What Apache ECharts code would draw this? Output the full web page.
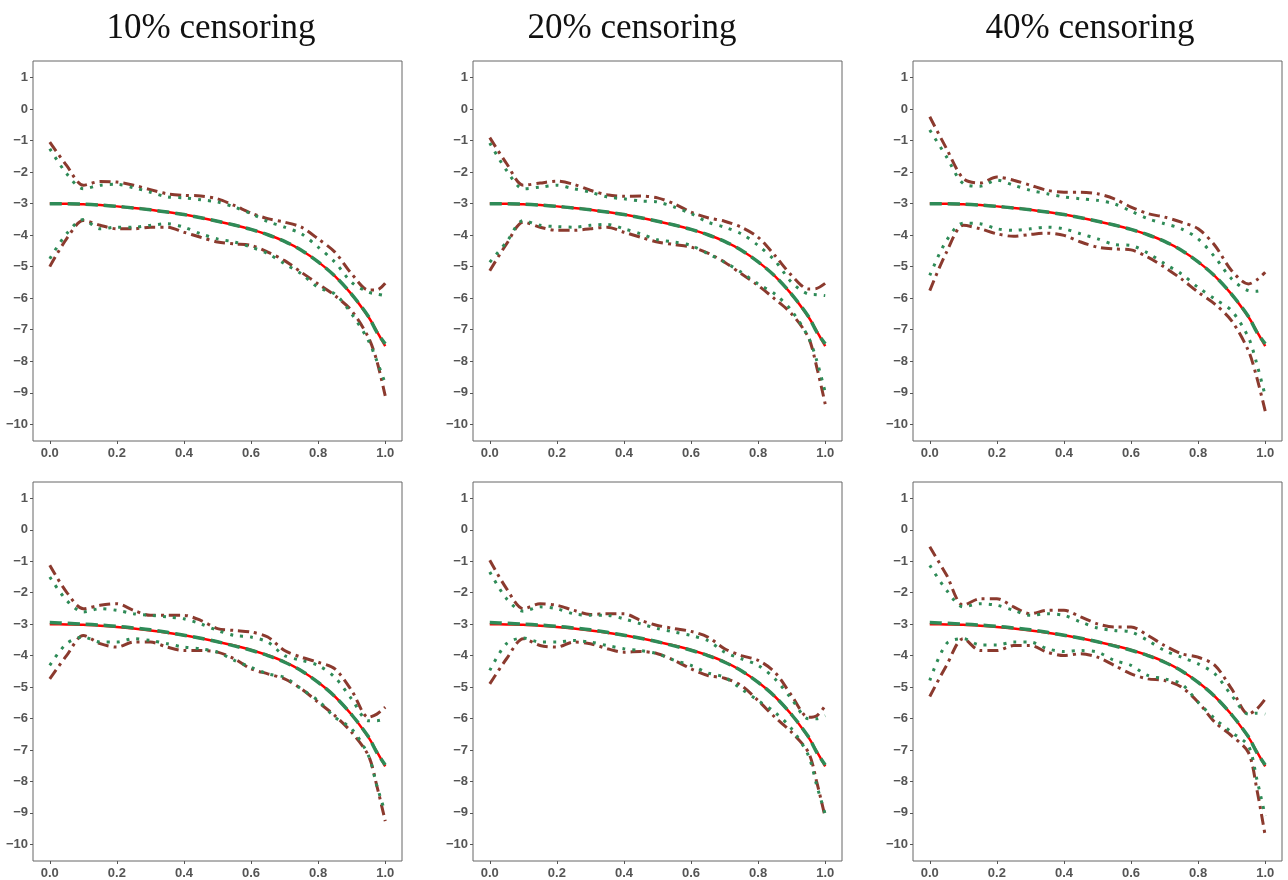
<!DOCTYPE html>
<html>
<head>
<meta charset="utf-8">
<script src="https://cdn.jsdelivr.net/npm/echarts@6/dist/echarts.min.js"></script>
<style>html,body{margin:0;padding:0;background:#fff}#c{width:1288px;height:880px}</style>
</head>
<body>
<div id="c"></div>
<script>
const titles = ['10% censoring', '20% censoring', '40% censoring'];
const xs = [0,0.05,0.1,0.15,0.2,0.25,0.3,0.35,0.4,0.45,0.5,0.55,0.6,0.65,0.7,0.75,0.8,0.85,0.9,0.95,0.975,1.0];
const xTicks = [0, 0.2, 0.4, 0.6, 0.8, 1.0];
const yTicks = [-10,-9,-8,-7,-6,-5,-4,-3,-2,-1,0,1];

const truth = [-3.0,-3.01,-3.02,-3.05,-3.09,-3.14,-3.2,-3.27,-3.35,-3.45,-3.56,-3.68,-3.82,-3.99,-4.2,-4.48,-4.85,-5.3,-5.88,-6.6,-7.05,-7.52];
const estTop = [-3.01,-3.01,-3.02,-3.05,-3.09,-3.14,-3.2,-3.27,-3.35,-3.45,-3.56,-3.68,-3.82,-3.99,-4.2,-4.48,-4.85,-5.3,-5.88,-6.58,-7.08,-7.45];
const estBottom = [-2.95,-2.97,-3.0,-3.03,-3.07,-3.12,-3.18,-3.26,-3.35,-3.45,-3.56,-3.69,-3.83,-4.0,-4.21,-4.48,-4.85,-5.3,-5.88,-6.58,-7.08,-7.48];

// panel 1: 10% censoring, top
const p1UpDD = [-1.05,-1.79,-2.42,-2.3,-2.32,-2.42,-2.56,-2.69,-2.74,-2.76,-2.85,-3.06,-3.3,-3.48,-3.59,-3.75,-4.12,-4.54,-5.23,-5.74,-5.74,-5.53];
const p1UpDot = [-1.26,-2.05,-2.53,-2.42,-2.39,-2.5,-2.64,-2.79,-2.82,-2.88,-2.95,-3.11,-3.32,-3.57,-3.75,-3.96,-4.38,-4.86,-5.5,-5.81,-5.87,-5.92];
const p1LoDD = [-5.0,-4.12,-3.54,-3.69,-3.8,-3.8,-3.75,-3.75,-3.91,-4.07,-4.22,-4.28,-4.33,-4.54,-4.81,-5.18,-5.55,-5.92,-6.4,-7.25,-7.99,-9.1];
const p1LoDot = [-4.75,-3.96,-3.51,-3.8,-3.75,-3.75,-3.69,-3.64,-3.75,-3.96,-4.12,-4.22,-4.38,-4.59,-4.91,-5.23,-5.66,-5.87,-6.5,-7.35,-7.99,-8.7];
// panel 2: 20% censoring, top
const p2UpDD = [-0.91,-1.73,-2.42,-2.35,-2.29,-2.39,-2.58,-2.72,-2.77,-2.76,-2.82,-3.01,-3.27,-3.45,-3.56,-3.75,-4.07,-4.65,-5.28,-5.71,-5.69,-5.53];
const p2UpDot = [-1.08,-1.95,-2.53,-2.48,-2.42,-2.53,-2.64,-2.79,-2.85,-2.92,-2.95,-3.11,-3.32,-3.59,-3.75,-3.96,-4.33,-4.81,-5.5,-5.87,-5.89,-5.92];
const p2LoDD = [-5.13,-4.28,-3.59,-3.75,-3.85,-3.85,-3.8,-3.75,-3.91,-4.07,-4.22,-4.3,-4.38,-4.57,-4.86,-5.23,-5.6,-6.03,-6.5,-7.25,-8.2,-9.36];
const p2LoDot = [-4.86,-4.22,-3.54,-3.69,-3.73,-3.75,-3.69,-3.66,-3.8,-3.96,-4.15,-4.22,-4.33,-4.59,-4.86,-5.18,-5.55,-5.87,-6.4,-7.25,-7.99,-8.99];
// panel 3: 40% censoring, top
const p3UpDD = [-0.25,-1.26,-2.21,-2.35,-2.16,-2.26,-2.42,-2.58,-2.64,-2.64,-2.69,-2.85,-3.11,-3.32,-3.43,-3.59,-3.8,-4.33,-5.13,-5.55,-5.42,-5.18];
const p3UpDot = [-0.67,-1.52,-2.37,-2.45,-2.26,-2.42,-2.58,-2.69,-2.79,-2.85,-2.9,-3.01,-3.24,-3.48,-3.64,-3.8,-4.12,-4.7,-5.39,-5.76,-5.78,-5.71];
const p3LoDD = [-5.76,-4.54,-3.69,-3.8,-3.96,-4.04,-3.98,-3.94,-4.01,-4.22,-4.38,-4.44,-4.47,-4.7,-5.02,-5.39,-5.81,-6.19,-6.72,-7.67,-8.52,-9.58];
const p3LoDot = [-5.28,-4.17,-3.62,-3.64,-3.8,-3.85,-3.8,-3.75,-3.8,-3.96,-4.12,-4.3,-4.33,-4.57,-4.91,-5.23,-5.66,-6.03,-6.4,-7.25,-8.09,-9.1];
// panel 4: 10% censoring, bottom
const p4UpDD = [-1.13,-1.98,-2.51,-2.4,-2.35,-2.56,-2.72,-2.72,-2.72,-2.88,-3.14,-3.2,-3.25,-3.41,-3.84,-4.05,-4.21,-4.42,-5.11,-5.96,-5.86,-5.64];
const p4UpDot = [-1.5,-2.24,-2.61,-2.51,-2.56,-2.67,-2.72,-2.77,-2.83,-2.99,-3.2,-3.36,-3.41,-3.57,-4.0,-4.15,-4.31,-4.69,-5.38,-6.07,-6.07,-6.01];
const p4LoDD = [-4.74,-4.0,-3.36,-3.62,-3.73,-3.57,-3.57,-3.73,-3.84,-3.84,-3.89,-4.1,-4.42,-4.58,-4.74,-5.06,-5.48,-5.91,-6.44,-7.18,-8.14,-9.26];
const p4LoDot = [-4.31,-3.62,-3.41,-3.57,-3.57,-3.46,-3.52,-3.62,-3.73,-3.78,-3.89,-4.15,-4.37,-4.58,-4.69,-5.06,-5.43,-5.96,-6.33,-7.18,-8.14,-8.99];
// panel 5: 20% censoring, bottom
const p5UpDD = [-0.97,-1.87,-2.51,-2.35,-2.4,-2.56,-2.69,-2.67,-2.67,-2.88,-3.04,-3.14,-3.23,-3.41,-3.78,-4.0,-4.15,-4.53,-5.27,-5.96,-5.91,-5.59];
const p5UpDot = [-1.34,-2.19,-2.59,-2.45,-2.51,-2.67,-2.72,-2.72,-2.83,-2.99,-3.14,-3.25,-3.36,-3.52,-3.89,-4.1,-4.31,-4.74,-5.38,-6.01,-6.01,-5.91];
const p5LoDD = [-4.9,-4.1,-3.46,-3.68,-3.73,-3.57,-3.62,-3.78,-3.89,-3.87,-3.94,-4.15,-4.42,-4.63,-4.72,-4.95,-5.43,-5.96,-6.44,-7.08,-8.03,-9.15];
const p5LoDot = [-4.47,-3.62,-3.44,-3.57,-3.57,-3.52,-3.57,-3.68,-3.78,-3.84,-3.94,-4.15,-4.31,-4.55,-4.69,-5.06,-5.43,-5.8,-6.33,-7.18,-8.14,-9.04];
// panel 6: 40% censoring, bottom
const p6UpDD = [-0.54,-1.44,-2.4,-2.19,-2.19,-2.45,-2.67,-2.56,-2.56,-2.77,-2.99,-3.09,-3.09,-3.36,-3.68,-3.94,-4.05,-4.31,-5.06,-5.86,-5.7,-5.38];
const p6UpDot = [-1.13,-1.92,-2.45,-2.35,-2.4,-2.56,-2.72,-2.67,-2.72,-2.93,-3.12,-3.2,-3.25,-3.52,-3.84,-4.05,-4.26,-4.58,-5.27,-5.86,-5.83,-5.86];
const p6LoDD = [-5.3,-4.31,-3.46,-3.84,-3.84,-3.68,-3.68,-3.89,-4.0,-3.94,-4.05,-4.31,-4.58,-4.74,-4.79,-5.0,-5.48,-6.12,-6.55,-7.08,-8.25,-9.73];
const p6LoDot = [-4.79,-3.62,-3.46,-3.66,-3.66,-3.57,-3.57,-3.78,-3.87,-3.84,-3.89,-4.15,-4.31,-4.63,-4.74,-4.9,-5.48,-6.01,-6.44,-6.87,-7.93,-9.1];

const panels = [
  {est: estTop, up: p1UpDD, upDot: p1UpDot, lo: p1LoDD, loDot: p1LoDot},
  {est: estTop, up: p2UpDD, upDot: p2UpDot, lo: p2LoDD, loDot: p2LoDot},
  {est: estTop, up: p3UpDD, upDot: p3UpDot, lo: p3LoDD, loDot: p3LoDot},
  {est: estBottom, up: p4UpDD, upDot: p4UpDot, lo: p4LoDD, loDot: p4LoDot},
  {est: estBottom, up: p5UpDD, upDot: p5UpDot, lo: p5LoDD, loDot: p5LoDot},
  {est: estBottom, up: p6UpDD, upDot: p6UpDot, lo: p6LoDD, loDot: p6LoDot}
];

const colLeft = [33, 473, 913];
const colWidth = 369;
const rowTop = [61, 482];
const rowHeight = 380;
const titleX = [206, 627, 1085];

const pair = arr => xs.map((x, i) => [x, arr[i]]);
const fmtY = v => v < 0 ? '\u2212' + Math.abs(v) : String(v);

const grids = [], xAxes = [], yAxes = [], series = [];
const labelStyle = {color: '#555', fontFamily: 'Liberation Sans, Arial, sans-serif', fontWeight: 'bold', fontSize: 13};
panels.forEach((p, k) => {
  const r = Math.floor(k / 3), c = k % 3;
  grids.push({left: colLeft[c], top: rowTop[r], width: colWidth, height: rowHeight,
    show: true, borderColor: '#666', borderWidth: 1, backgroundColor: '#fff'});
  xAxes.push({type: 'value', gridIndex: k, min: -0.05, max: 1.05, position: 'bottom',
    axisLine: {show: false, onZero: false}, splitLine: {show: false},
    axisTick: {show: true, inside: false, length: 3, customValues: xTicks, lineStyle: {color: '#555'}},
    axisLabel: {customValues: xTicks, margin: 6, formatter: v => v.toFixed(1), ...labelStyle}});
  yAxes.push({type: 'value', gridIndex: k, min: -10.53, max: 1.52, position: 'left',
    axisLine: {show: false, onZero: false}, splitLine: {show: false},
    axisTick: {show: true, inside: false, length: 3, customValues: yTicks, lineStyle: {color: '#555'}},
    axisLabel: {customValues: yTicks, margin: 5, formatter: fmtY, ...labelStyle}});
  const base = {type: 'line', xAxisIndex: k, yAxisIndex: k, showSymbol: false, smooth: 0.3, animation: false, z: 2};
  series.push({...base, name: 'true', data: pair(truth), lineStyle: {color: '#ff0000', width: 2.5, type: 'solid'}});
  series.push({...base, name: 'estimate', data: pair(p.est), z: 3, lineStyle: {color: '#2e8b57', width: 3.5, type: [12, 6]}});
  series.push({...base, name: 'upper', data: pair(p.up), z: 4, lineStyle: {color: '#8b3a2e', width: 3, type: [11, 5, 3, 5]}});
  series.push({...base, name: 'lower', data: pair(p.lo), z: 4, lineStyle: {color: '#8b3a2e', width: 3, type: [11, 5, 3, 5]}});
  series.push({...base, name: 'upper2', data: pair(p.upDot), z: 5, lineStyle: {color: '#2e8b57', width: 3, type: [3, 7]}});
  series.push({...base, name: 'lower2', data: pair(p.loDot), z: 5, lineStyle: {color: '#2e8b57', width: 3, type: [3, 7]}});
});

const chart = echarts.init(document.getElementById('c'), null, {renderer: 'canvas'});
chart.setOption({
  backgroundColor: '#fff',
  animation: false,
  title: titles.map((t, i) => ({text: t, left: titleX[i], top: 6, textAlign: 'center',
    textStyle: {fontFamily: 'Liberation Serif, Times New Roman, serif', fontSize: 35, fontWeight: 'normal', color: '#111'}})),
  grid: grids, xAxis: xAxes, yAxis: yAxes, series: series
});
</script>
</body>
</html>
